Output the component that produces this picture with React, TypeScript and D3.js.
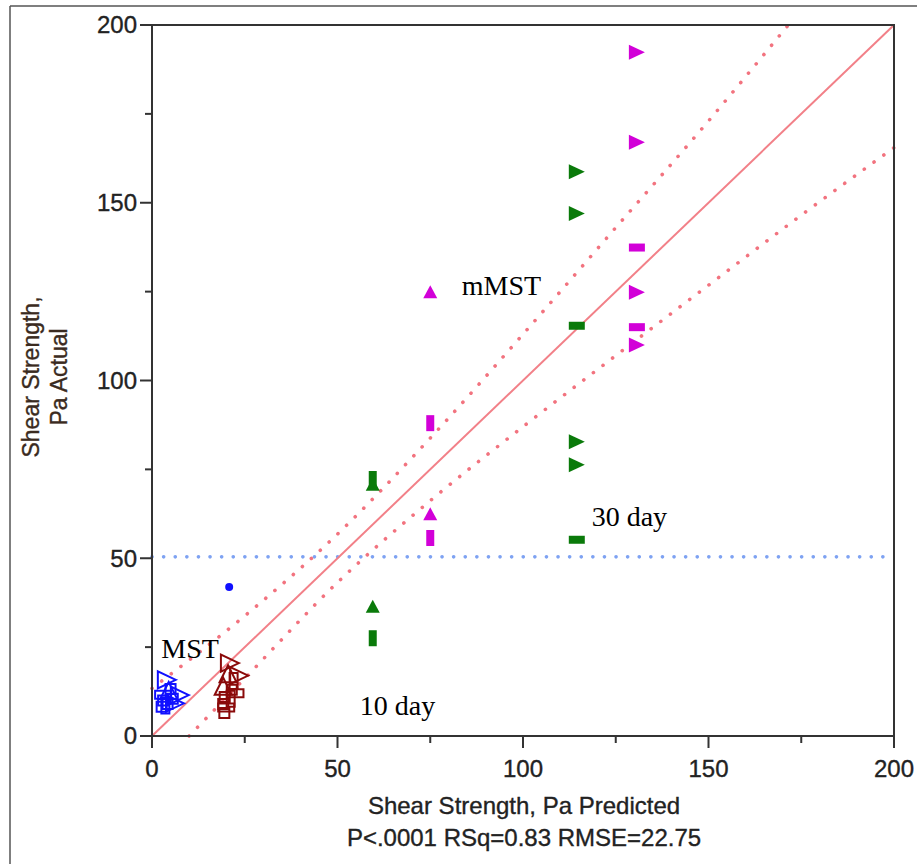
import React from "react";
import * as d3 from "d3";

// ---- data ----
const tickValues = [0, 50, 100, 150, 200];
const minorTicks = [25, 75, 125, 175];

// MST (blue, open markers)
const mstPred = [4.0, 7.5, 4.5, 3.0, 4.2, 5.6, 2.6, 3.6, 6.2, 3.0, 5.0];
const mstActual = [15.8, 11.5, 12.8, 10.0, 9.0, 10.5, 8.2, 8.6, 9.2, 11.6, 13.2];
const mstShape = ["triRight", "triRight", "triUp", "square", "square", "square", "square", "rectV", "triRight", "rectH", "square"];
const mstOutlierPred = [20.8];
const mstOutlierActual = [41.9];

// 10 day MST cluster (maroon, open markers)
const darkPred = [21.0, 23.5, 20.5, 19.2, 22.0, 21.5, 22.5, 19.6, 19.2, 20.0, 19.5, 21.2];
const darkActual = [20.5, 17.0, 17.5, 14.0, 15.5, 13.0, 12.0, 11.0, 9.0, 8.0, 6.5, 10.5];
const darkShape = ["triRight", "triRight", "triUp", "triUp", "rectV", "square", "rectH", "square", "square", "rectH", "square", "rectV"];

// mMST green (filled)
const greenPred = [59.5, 59.5, 59.5, 59.5, 114.5, 114.5, 114.5, 114.5, 114.5, 114.5];
const greenActual = [70.8, 72.3, 36.5, 27.5, 158.7, 147.0, 82.8, 76.3, 115.4, 55.2];
const greenShape = ["triUp", "rectV", "triUp", "rectV", "triRight", "triRight", "triRight", "triRight", "rectH", "rectH"];

// mMST magenta (filled)
const magPred = [75, 75, 75, 75, 130.7, 130.7, 130.7, 130.7, 130.7, 130.7];
const magActual = [125, 88, 62.5, 55.7, 192.3, 167, 124.8, 110, 137.4, 115];
const magShape = ["triUp", "rectV", "triUp", "rectV", "triRight", "triRight", "triRight", "triRight", "rectH", "rectH"];

// fit line and confidence curves
const fitPred = [0, 200];
const fitActual = [0, 200];
const upperPred = [0, 25, 50, 75, 100, 125, 150, 171.5];
const upperActual = [13.4, 33.8, 56.8, 83.8, 113, 143, 173, 200];
const lowerPred = [10, 25, 50, 75, 100, 125, 150, 175, 200];
const lowerActual = [0, 16.2, 43.2, 66.2, 87, 107, 126.8, 146.5, 165.5];
const meanActual = 50.4;

const annotations = ["mMST", "30 day", "10 day", "MST"];
const annotPred = [83.5, 118.5, 56, 2.5];
const annotActual = [124, 59, 6, 22];

const W = 917;
const H = 864;
const x = d3.scaleLinear().domain([0, 200]).range([152, 894]);
const y = d3.scaleLinear().domain([0, 200]).range([736, 25]);

function markerPath(shape: string, cx: number, cy: number, big: boolean): string {
  const p = d3.path();
  if (shape === "triUp") {
    const w = big ? 8.5 : 7, h = big ? 8.5 : 6.5;
    p.moveTo(cx, cy - h);
    p.lineTo(cx + w, cy + h);
    p.lineTo(cx - w, cy + h);
    p.closePath();
  } else if (shape === "triRight") {
    const w = big ? 9 : 8, h = big ? 8.5 : 7.5;
    p.moveTo(cx + w, cy);
    p.lineTo(cx - w, cy - h);
    p.lineTo(cx - w, cy + h);
    p.closePath();
  } else if (shape === "rectV") {
    p.rect(cx - 4, cy - 8, 8, 16);
  } else if (shape === "rectH") {
    p.rect(cx - 8, cy - 4, 16, 8);
  } else {
    p.rect(cx - 5, cy - 5, 10, 10);
  }
  return p.toString();
}

export default function App() {
  const line = d3.line<[number, number]>().x((d) => x(d[0])).y((d) => y(d[1]));
  const curve = d3
    .line<[number, number]>()
    .x((d) => x(d[0]))
    .y((d) => y(d[1]))
    .curve(d3.curveMonotoneX);
  const upper = curve(upperPred.map((v, i) => [v, upperActual[i]]));
  const lower = curve(lowerPred.map((v, i) => [v, lowerActual[i]]));
  const fit = line(fitPred.map((v, i) => [v, fitActual[i]]));

  const sans = "'Liberation Sans', Arial, sans-serif";
  const serif = "'Liberation Serif', 'Times New Roman', serif";
  const textCol = "#222";
  const ts = { stroke: "#222", strokeWidth: 0.35 };

  return (
    <div style={{ position: "absolute", left: 0, top: 0 }}>
      <svg width={W} height={H} style={{ display: "block", background: "#fff" }}>
        {/* panel border */}
        <line x1={10} y1={6} x2={W} y2={6} stroke="#555" strokeWidth={1.5} />
        <line x1={10} y1={6} x2={10} y2={H} stroke="#555" strokeWidth={1.5} />

        {/* mean line */}
        <line
          x1={x(0)}
          x2={x(200)}
          y1={y(meanActual)}
          y2={y(meanActual)}
          stroke="#7ea2f2"
          strokeWidth={3.6}
          strokeDasharray="0.1 11.5"
          strokeLinecap="round"
        />
        {/* confidence curves */}
        <path d={upper || ""} fill="none" stroke="#f2737f" strokeWidth={3.6} strokeDasharray="0.1 12" strokeLinecap="round" />
        <path d={lower || ""} fill="none" stroke="#f2737f" strokeWidth={3.6} strokeDasharray="0.1 12" strokeLinecap="round" />
        {/* fit */}
        <path d={fit || ""} fill="none" stroke="#f28088" strokeWidth={2} />

        {/* MST blue */}
        {mstPred.map((v, i) => (
          <path key={"m" + i} d={markerPath(mstShape[i], x(v), y(mstActual[i]), true)} fill="none" stroke="#1010ff" strokeWidth={2} />
        ))}
        {mstOutlierPred.map((v, i) => (
          <circle key={"mo" + i} cx={x(v)} cy={y(mstOutlierActual[i])} r={4} fill="#1010ff" />
        ))}
        {/* dark red */}
        {darkPred.map((v, i) => (
          <path key={"d" + i} d={markerPath(darkShape[i], x(v), y(darkActual[i]), true)} fill="none" stroke="#8a0a0a" strokeWidth={2} />
        ))}
        {/* green */}
        {greenPred.map((v, i) => (
          <path key={"g" + i} d={markerPath(greenShape[i], x(v), y(greenActual[i]), false)} fill="#0a7a0a" />
        ))}
        {/* magenta */}
        {magPred.map((v, i) => (
          <path key={"p" + i} d={markerPath(magShape[i], x(v), y(magActual[i]), false)} fill="#d200d8" />
        ))}

        {/* frame */}
        <rect x={x(0)} y={y(200)} width={x(200) - x(0)} height={y(0) - y(200)} fill="none" stroke="#333" strokeWidth={2} />

        {/* y axis ticks */}
        {tickValues.map((t) => (
          <g key={"yt" + t}>
            <line x1={x(0) - 12} x2={x(0)} y1={y(t)} y2={y(t)} stroke="#333" strokeWidth={2} />
            <text x={x(0) - 15} y={y(t)} dy="0.35em" textAnchor="end" fontFamily={sans} fontSize={24} fill={textCol} {...ts}>
              {t}
            </text>
          </g>
        ))}
        {minorTicks.map((t) => (
          <line key={"ym" + t} x1={x(0) - 7} x2={x(0)} y1={y(t)} y2={y(t)} stroke="#333" strokeWidth={2} />
        ))}
        {/* x axis ticks */}
        {tickValues.map((t) => (
          <g key={"xt" + t}>
            <line x1={x(t)} x2={x(t)} y1={y(0)} y2={y(0) + 12} stroke="#333" strokeWidth={2} />
            <text x={x(t)} y={777} textAnchor="middle" fontFamily={sans} fontSize={24} fill={textCol} {...ts}>
              {t}
            </text>
          </g>
        ))}
        {minorTicks.map((t) => (
          <line key={"xm" + t} x1={x(t)} x2={x(t)} y1={y(0)} y2={y(0) + 7} stroke="#333" strokeWidth={2} />
        ))}

        {/* axis titles */}
        <text x={524} y={814} textAnchor="middle" fontFamily={sans} fontSize={24} fill={textCol} {...ts}>
          Shear Strength, Pa Predicted
        </text>
        <text x={524} y={846} textAnchor="middle" fontFamily={sans} fontSize={24} fill={textCol} {...ts}>
          P&lt;.0001 RSq=0.83 RMSE=22.75
        </text>
        <text transform="translate(39,377) rotate(-90)" textAnchor="middle" fontFamily={sans} fontSize={23} fill="#3a2a20" stroke="#3a2a20" strokeWidth={0.35}>
          Shear Strength,
        </text>
        <text transform="translate(67,377) rotate(-90)" textAnchor="middle" fontFamily={sans} fontSize={23} fill="#3a2a20" stroke="#3a2a20" strokeWidth={0.35}>
          Pa Actual
        </text>

        {/* annotations */}
        {annotations.map((a, i) => (
          <text key={a} x={x(annotPred[i])} y={y(annotActual[i])} fontFamily={serif} fontSize={28} fill="#000">
            {a}
          </text>
        ))}
      </svg>
    </div>
  );
}
